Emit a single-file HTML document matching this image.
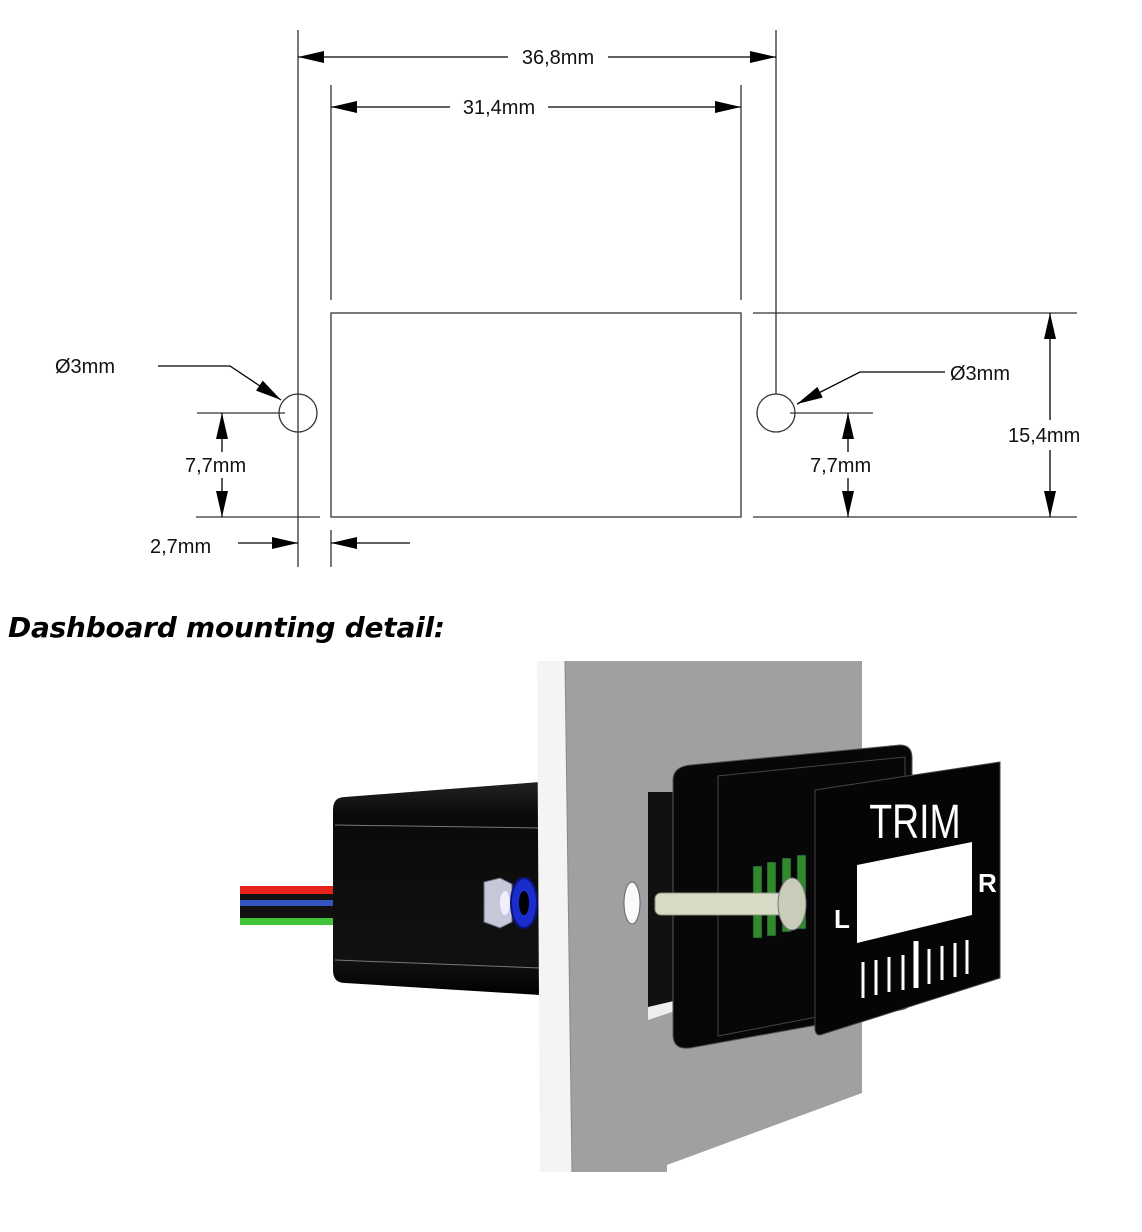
<!DOCTYPE html>
<html><head><meta charset="utf-8"><style>
html,body{margin:0;padding:0;background:#fff;}
svg{display:block;}
</style></head><body>
<svg width="1142" height="1232" viewBox="0 0 1142 1232" xmlns="http://www.w3.org/2000/svg" font-family="Liberation Sans, Arial, sans-serif">
<defs>
<marker id="a" viewBox="0 0 26 12" refX="26" refY="6" markerWidth="26" markerHeight="12" markerUnits="userSpaceOnUse" orient="auto"><path d="M0,0L26,6L0,12z" fill="#000"/></marker>
<linearGradient id="bodyg" x1="0" y1="0" x2="0" y2="1"><stop offset="0" stop-color="#222"/><stop offset="0.15" stop-color="#0a0a0a"/><stop offset="0.85" stop-color="#111"/><stop offset="1" stop-color="#000"/></linearGradient>
</defs>
<g stroke="#333" stroke-width="1.3" fill="none">
<line x1="298" y1="30" x2="298" y2="567"/>
<line x1="776" y1="30" x2="776" y2="394"/>
<line x1="331" y1="85" x2="331" y2="300"/>
<line x1="741" y1="85" x2="741" y2="300"/>
<line x1="331" y1="530" x2="331" y2="567"/>
<rect x="331" y="313" width="410" height="204"/>
<circle cx="298" cy="413" r="19"/>
<circle cx="776" cy="413" r="19"/>
<line x1="197" y1="413" x2="285" y2="413"/>
<line x1="196" y1="517" x2="320" y2="517"/>
<line x1="790" y1="413" x2="873" y2="413"/>
<line x1="753" y1="517" x2="1077" y2="517"/>
<line x1="753" y1="313" x2="1077" y2="313"/>
</g>
<g stroke="#000" stroke-width="1.3" fill="none">
<line x1="508" y1="57" x2="298" y2="57" marker-end="url(#a)"/>
<line x1="608" y1="57" x2="776" y2="57" marker-end="url(#a)"/>
<line x1="450" y1="107" x2="331" y2="107" marker-end="url(#a)"/>
<line x1="548" y1="107" x2="741" y2="107" marker-end="url(#a)"/>
<polyline points="158,366 230,366 281,400" marker-end="url(#a)"/>
<polyline points="945,372 860,372 797,404" marker-end="url(#a)"/>
<line x1="222" y1="452" x2="222" y2="413" marker-end="url(#a)"/>
<line x1="222" y1="478" x2="222" y2="517" marker-end="url(#a)"/>
<line x1="848" y1="452" x2="848" y2="413" marker-end="url(#a)"/>
<line x1="848" y1="478" x2="848" y2="517" marker-end="url(#a)"/>
<line x1="1050" y1="420" x2="1050" y2="313" marker-end="url(#a)"/>
<line x1="1050" y1="450" x2="1050" y2="517" marker-end="url(#a)"/>
<line x1="238" y1="543" x2="298" y2="543" marker-end="url(#a)"/>
<line x1="410" y1="543" x2="331" y2="543" marker-end="url(#a)"/>
</g>
<g font-size="20" fill="#111">
<text x="558" y="64" text-anchor="middle">36,8mm</text>
<text x="499" y="114" text-anchor="middle">31,4mm</text>
<text x="55" y="373">Ø3mm</text>
<text x="950" y="380">Ø3mm</text>
<text x="185" y="472">7,7mm</text>
<text x="810" y="472">7,7mm</text>
<text x="1008" y="442">15,4mm</text>
<text x="150" y="553">2,7mm</text>
</g>
<text x="8" y="637" font-family="DejaVu Sans, sans-serif" font-weight="bold" font-style="italic" font-size="28" fill="#000" textLength="437">Dashboard mounting detail:</text>

<!-- photo -->
<rect x="240" y="886" width="95" height="8" fill="#e5231b"/>
<rect x="240" y="894" width="95" height="6" fill="#111"/>
<rect x="240" y="900" width="95" height="6" fill="#3555c0"/>
<rect x="240" y="906" width="95" height="12" fill="#111"/>
<rect x="240" y="918" width="95" height="7" fill="#3fc43a"/>
<path d="M345,797 L540,782 L540,995 L345,983 Q333,983 333,970 L333,810 Q333,797 345,797z" fill="url(#bodyg)"/>
<line x1="335" y1="825" x2="540" y2="828" stroke="#777" stroke-width="1"/>
<line x1="335" y1="960" x2="540" y2="968" stroke="#777" stroke-width="1"/>
<polygon points="537,661 567,661 572,1172 540,1172" fill="#f4f4f4"/>
<polygon points="565,661 862,661 862,1093 667,1165 667,1172 572,1172" fill="#a0a0a0"/>
<line x1="565" y1="661" x2="572" y2="1172" stroke="#888" stroke-width="1"/>
<polygon points="484,882 500,878 512,884 512,922 500,928 484,922" fill="#c4c8d8" stroke="#667" stroke-width="1"/>
<ellipse cx="505" cy="903" rx="5" ry="12" fill="#eef"/>
<ellipse cx="524" cy="903" rx="13" ry="25" fill="#1a2ccc" stroke="#0a1480" stroke-width="2"/>
<ellipse cx="524" cy="903" rx="5" ry="12" fill="#000"/>
<ellipse cx="632" cy="903" rx="8" ry="21" fill="#fafafa" stroke="#666" stroke-width="1"/>
<rect x="648" y="792" width="30" height="215" fill="#111"/>
<polygon points="648,1007 678,1000 678,1010 648,1020" fill="#eee"/>
<path d="M690,765 L900,745 Q912,745 912,758 L912,1000 Q912,1008 900,1010 L690,1048 Q673,1050 673,1035 L673,780 Q673,767 690,765z" fill="#070707" stroke="#555" stroke-width="1"/>
<path d="M718,776 L905,757 L905,1000 L718,1036z" fill="none" stroke="#444" stroke-width="1"/>
<g fill="#2f8a2a" stroke="#113" stroke-width="0.6">
<rect x="753" y="866" width="9" height="72"/><rect x="767" y="862" width="9" height="74"/><rect x="782" y="858" width="9" height="74"/><rect x="797" y="855" width="9" height="74"/>
</g>
<rect x="655" y="893" width="135" height="22" rx="6" fill="#d6dcc6" stroke="#8a9478" stroke-width="1"/>
<ellipse cx="792" cy="904" rx="14" ry="26" fill="#c8ccb8" stroke="#777" stroke-width="1"/>
<path d="M815,790 L1000,762 L1000,978 L820,1035 Q815,1035 815,1028z" fill="#050505" stroke="#444" stroke-width="1"/>
<text x="915" y="838" font-size="44" fill="#fff" text-anchor="middle" font-family="Liberation Sans Narrow, Liberation Sans, sans-serif" transform="translate(915 838) scale(0.85 1.1) translate(-915 -838)">TRIM</text>
<polygon points="857,865 972,842 972,915 857,943" fill="#fff"/>
<text x="834" y="928" font-size="26" font-weight="bold" fill="#fff">L</text>
<text x="978" y="892" font-size="26" font-weight="bold" fill="#fff">R</text>
<g stroke="#fff" stroke-width="3">
<line x1="863" y1="962" x2="863" y2="998"/><line x1="876" y1="960" x2="876" y2="995"/><line x1="889" y1="957" x2="889" y2="992"/><line x1="903" y1="955" x2="903" y2="990"/>
<line x1="916" y1="941" x2="916" y2="988" stroke-width="5"/>
<line x1="929" y1="949" x2="929" y2="984"/><line x1="942" y1="946" x2="942" y2="980"/><line x1="955" y1="943" x2="955" y2="977"/><line x1="967" y1="940" x2="967" y2="974"/>
</g>
</svg>
</body></html>
